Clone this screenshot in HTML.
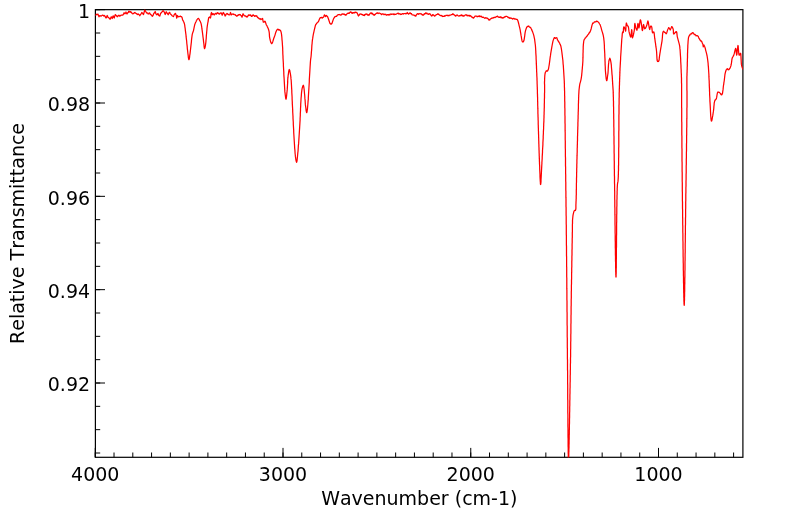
<!DOCTYPE html>
<html><head><meta charset="utf-8"><title>IR spectrum</title><style>
html,body{margin:0;padding:0;background:#fff;overflow:hidden;}
svg{display:block;will-change:transform;}
text{font-family:"DejaVu Sans","Liberation Sans",sans-serif;font-size:19px;fill:#000;}
</style></head><body>
<svg width="799" height="516" viewBox="0 0 799 516">
<defs><clipPath id="ax"><rect x="95.4" y="9.25" width="647.5" height="448.25000000000006"/></clipPath></defs>
<rect x="0" y="0" width="799" height="516" fill="#fff"/>
<g stroke="#000" stroke-width="1"><line x1="95.25" y1="457.3" x2="95.25" y2="452.5"/><line x1="95.25" y1="457.3" x2="95.25" y2="447.90000000000003"/><line x1="114.03" y1="457.3" x2="114.03" y2="452.5"/><line x1="132.80" y1="457.3" x2="132.80" y2="452.5"/><line x1="151.57" y1="457.3" x2="151.57" y2="452.5"/><line x1="170.35" y1="457.3" x2="170.35" y2="452.5"/><line x1="189.12" y1="457.3" x2="189.12" y2="452.5"/><line x1="207.90" y1="457.3" x2="207.90" y2="452.5"/><line x1="226.68" y1="457.3" x2="226.68" y2="452.5"/><line x1="245.45" y1="457.3" x2="245.45" y2="452.5"/><line x1="264.23" y1="457.3" x2="264.23" y2="452.5"/><line x1="283.00" y1="457.3" x2="283.00" y2="452.5"/><line x1="283.00" y1="457.3" x2="283.00" y2="447.90000000000003"/><line x1="301.77" y1="457.3" x2="301.77" y2="452.5"/><line x1="320.55" y1="457.3" x2="320.55" y2="452.5"/><line x1="339.32" y1="457.3" x2="339.32" y2="452.5"/><line x1="358.10" y1="457.3" x2="358.10" y2="452.5"/><line x1="376.88" y1="457.3" x2="376.88" y2="452.5"/><line x1="395.65" y1="457.3" x2="395.65" y2="452.5"/><line x1="414.43" y1="457.3" x2="414.43" y2="452.5"/><line x1="433.20" y1="457.3" x2="433.20" y2="452.5"/><line x1="451.98" y1="457.3" x2="451.98" y2="452.5"/><line x1="470.75" y1="457.3" x2="470.75" y2="452.5"/><line x1="470.75" y1="457.3" x2="470.75" y2="447.90000000000003"/><line x1="489.52" y1="457.3" x2="489.52" y2="452.5"/><line x1="508.30" y1="457.3" x2="508.30" y2="452.5"/><line x1="527.08" y1="457.3" x2="527.08" y2="452.5"/><line x1="545.85" y1="457.3" x2="545.85" y2="452.5"/><line x1="564.62" y1="457.3" x2="564.62" y2="452.5"/><line x1="583.40" y1="457.3" x2="583.40" y2="452.5"/><line x1="602.17" y1="457.3" x2="602.17" y2="452.5"/><line x1="620.95" y1="457.3" x2="620.95" y2="452.5"/><line x1="639.73" y1="457.3" x2="639.73" y2="452.5"/><line x1="658.50" y1="457.3" x2="658.50" y2="452.5"/><line x1="658.50" y1="457.3" x2="658.50" y2="447.90000000000003"/><line x1="677.27" y1="457.3" x2="677.27" y2="452.5"/><line x1="696.05" y1="457.3" x2="696.05" y2="452.5"/><line x1="714.83" y1="457.3" x2="714.83" y2="452.5"/><line x1="733.60" y1="457.3" x2="733.60" y2="452.5"/><line x1="95.4" y1="9.67" x2="100.2" y2="9.67"/><line x1="95.4" y1="9.67" x2="105.0" y2="9.67"/><line x1="95.4" y1="33.00" x2="100.2" y2="33.00"/><line x1="95.4" y1="56.34" x2="100.2" y2="56.34"/><line x1="95.4" y1="79.67" x2="100.2" y2="79.67"/><line x1="95.4" y1="103.00" x2="100.2" y2="103.00"/><line x1="95.4" y1="103.00" x2="105.0" y2="103.00"/><line x1="95.4" y1="126.34" x2="100.2" y2="126.34"/><line x1="95.4" y1="149.67" x2="100.2" y2="149.67"/><line x1="95.4" y1="173.00" x2="100.2" y2="173.00"/><line x1="95.4" y1="196.34" x2="100.2" y2="196.34"/><line x1="95.4" y1="196.34" x2="105.0" y2="196.34"/><line x1="95.4" y1="219.67" x2="100.2" y2="219.67"/><line x1="95.4" y1="243.01" x2="100.2" y2="243.01"/><line x1="95.4" y1="266.34" x2="100.2" y2="266.34"/><line x1="95.4" y1="289.67" x2="100.2" y2="289.67"/><line x1="95.4" y1="289.67" x2="105.0" y2="289.67"/><line x1="95.4" y1="313.01" x2="100.2" y2="313.01"/><line x1="95.4" y1="336.34" x2="100.2" y2="336.34"/><line x1="95.4" y1="359.67" x2="100.2" y2="359.67"/><line x1="95.4" y1="383.01" x2="100.2" y2="383.01"/><line x1="95.4" y1="383.01" x2="105.0" y2="383.01"/><line x1="95.4" y1="406.34" x2="100.2" y2="406.34"/><line x1="95.4" y1="429.67" x2="100.2" y2="429.67"/><line x1="95.4" y1="453.01" x2="100.2" y2="453.01"/></g>
<rect x="95.4" y="9.65" width="647.50" height="447.65" fill="none" stroke="#000" stroke-width="1.2"/>
<path d="M95.2,15.8 95.6,15.1 95.9,14.4 96.2,14.2 96.6,14.6 97.0,14.8 97.3,14.2 97.7,14.4 98.0,14.2 99.0,16.8 99.3,16.3 99.7,15.7 100.0,15.8 100.3,15.9 100.7,15.7 101.0,16.2 101.5,15.8 102.0,15.5 102.4,15.1 102.8,15.1 103.1,15.4 103.5,15.5 103.9,16.0 104.3,15.5 104.8,16.0 105.2,16.4 105.6,17.4 106.0,18.0 106.4,17.6 106.8,16.4 107.2,15.5 107.6,16.1 107.9,17.3 108.3,17.5 108.8,17.5 109.2,18.2 109.6,18.9 109.9,18.7 110.2,19.2 111.2,16.8 111.6,17.0 111.9,17.6 112.2,18.5 113.2,15.8 113.6,16.3 113.9,17.5 114.2,18.0 114.7,16.4 115.2,14.7 115.6,14.7 115.9,15.3 116.2,15.5 116.6,16.0 116.9,16.2 117.2,16.8 117.7,16.4 118.1,15.5 118.5,15.5 118.9,15.2 119.2,15.5 119.6,16.0 120.0,16.0 120.4,15.7 120.8,15.3 121.1,15.3 121.5,15.0 121.9,15.0 122.3,15.0 122.8,15.2 123.2,14.7 123.6,13.8 124.0,12.8 124.5,13.0 125.0,13.8 125.3,13.2 125.7,12.6 126.0,12.0 126.3,13.0 126.7,13.5 127.0,14.0 127.5,13.1 128.0,12.5 128.3,12.5 128.7,11.3 129.0,11.2 129.4,11.7 129.8,12.2 130.1,12.3 130.4,11.6 130.8,11.8 131.1,12.2 131.4,12.2 131.8,13.0 132.1,13.4 132.4,13.7 132.8,13.8 133.2,13.6 133.6,13.6 134.0,13.0 134.3,12.7 134.7,12.8 135.0,12.5 135.4,12.9 135.8,13.2 136.2,13.5 136.7,13.7 137.1,14.3 137.5,14.2 137.8,14.6 138.2,14.1 138.5,14.0 138.9,14.7 139.3,14.8 139.8,15.8 140.1,15.3 140.4,14.7 140.8,14.0 141.1,13.9 141.4,13.3 141.8,12.5 142.1,12.6 142.4,13.1 142.8,13.5 143.1,14.2 143.5,14.5 144.2,12.0 144.8,10.0 145.1,10.2 145.5,11.2 145.8,11.8 146.2,12.1 146.5,13.0 146.8,12.7 147.2,12.8 147.5,13.3 148.0,13.9 148.5,14.0 148.8,13.2 149.2,12.9 149.5,12.8 149.8,13.2 150.2,14.3 150.5,14.5 150.8,14.4 151.2,15.0 151.5,15.2 151.8,15.6 152.2,16.3 152.5,16.2 152.8,15.8 153.2,15.1 153.5,14.0 154.0,13.2 154.5,12.7 154.9,12.0 155.2,11.5 156.0,14.0 156.3,14.1 156.7,14.8 157.0,14.7 157.3,14.7 157.7,13.6 158.0,13.5 158.8,15.5 159.1,15.4 159.4,15.6 159.8,16.0 160.5,13.7 160.8,13.1 161.2,12.9 161.5,12.5 161.8,12.2 162.2,11.6 162.5,11.5 162.9,10.7 163.2,10.8 163.6,11.1 163.9,11.5 164.2,12.0 165.2,14.5 166.2,11.8 166.6,12.2 166.9,13.0 167.2,13.0 167.6,13.8 167.9,14.2 168.2,14.8 168.6,14.0 168.9,13.2 169.3,12.3 169.8,12.5 170.2,13.5 170.7,14.3 171.1,14.6 171.5,14.8 171.8,15.5 172.2,15.9 172.5,16.0 172.9,16.2 173.4,16.6 173.8,15.8 174.1,14.8 174.4,14.4 174.8,14.2 175.2,13.4 175.5,13.4 176.3,15.7 176.7,18.1 177.2,15.5 177.6,15.8 178.1,16.9 178.5,16.6 178.9,16.5 179.3,16.7 179.7,16.5 180.1,16.2 180.5,16.1 180.9,16.6 181.3,16.6 181.7,16.9 182.1,17.6 182.6,19.9 183.1,20.6 183.5,21.6 183.9,22.2 184.4,23.7 184.7,25.1 184.9,26.8 185.2,28.7 185.4,30.6 185.6,32.1 185.8,33.6 186.0,35.1 186.1,36.7 186.3,38.3 186.5,39.9 186.7,41.5 186.8,43.2 187.0,44.9 187.2,46.6 187.3,48.3 187.5,49.9 187.7,51.5 187.9,53.5 188.2,55.7 188.4,57.7 188.7,59.1 188.9,59.7 189.2,59.1 189.5,57.6 189.7,55.7 190.0,53.8 190.2,52.2 190.4,50.5 190.6,48.7 190.8,46.9 191.0,45.1 191.2,43.4 191.4,41.8 191.5,40.1 191.7,38.4 191.9,36.8 192.1,35.4 192.3,34.1 192.9,32.3 193.5,30.6 193.9,28.7 194.3,26.7 194.7,24.8 195.5,22.6 195.9,22.0 196.4,20.7 196.7,20.3 197.1,19.4 197.4,19.2 197.8,18.7 198.1,18.5 198.5,18.4 198.8,18.9 199.2,19.2 199.5,20.4 199.9,20.7 200.5,22.0 201.1,23.6 201.4,25.1 201.7,26.8 201.9,28.7 202.2,30.6 202.4,32.1 202.6,33.6 202.8,35.2 203.0,36.8 203.2,38.4 203.4,39.9 203.6,41.9 203.9,44.2 204.1,46.4 204.3,48.0 204.6,48.6 205.0,47.7 205.4,45.7 205.7,43.4 205.9,42.0 206.0,40.3 206.2,38.6 206.3,36.8 206.4,35.0 206.6,33.3 206.7,31.7 206.9,30.0 207.0,28.3 207.2,26.7 207.4,25.3 207.6,24.0 207.9,22.4 208.2,21.0 208.4,19.1 208.8,17.5 209.2,17.6 209.7,16.8 210.1,17.3 210.5,18.0 210.8,16.4 211.0,14.0 211.5,12.5 212.2,14.7 212.6,14.4 212.9,13.7 213.2,13.8 213.6,13.8 213.9,14.4 214.2,15.0 214.6,14.3 214.9,14.3 215.2,13.5 215.6,13.4 215.9,13.4 216.2,14.0 216.6,14.0 216.9,13.2 217.2,12.8 217.6,12.7 217.9,13.3 218.2,13.5 218.6,13.2 218.9,13.9 219.2,14.0 219.6,14.1 219.9,13.7 220.3,13.0 220.8,13.1 221.2,12.8 222.2,15.2 223.2,12.5 223.6,12.8 223.9,13.4 224.2,14.0 224.6,14.4 224.9,15.6 225.2,16.0 225.6,15.4 225.9,14.9 226.2,14.0 226.6,13.7 226.9,13.4 227.2,13.5 227.6,14.0 227.9,14.4 228.3,14.3 228.7,14.7 229.1,14.9 229.5,14.8 229.8,14.3 230.2,13.5 230.5,12.5 231.2,15.0 231.6,14.4 231.9,14.3 232.3,14.0 232.7,14.0 233.1,13.9 233.5,14.5 233.9,14.2 234.3,14.5 234.8,14.8 235.2,14.7 235.6,15.3 236.0,15.3 236.5,16.2 237.0,16.2 237.4,15.7 237.8,15.6 238.2,14.7 238.7,15.1 239.1,15.0 239.5,14.5 239.9,14.6 240.3,14.7 240.7,15.2 241.2,15.7 241.6,16.3 242.0,17.2 242.5,15.5 243.0,13.8 243.3,14.0 243.7,14.9 244.0,15.2 244.3,15.8 244.7,15.9 245.1,15.7 245.4,15.9 245.8,16.3 246.2,16.7 246.6,16.4 247.0,17.1 247.3,16.7 247.7,16.4 248.0,15.8 248.4,15.0 248.7,15.3 249.1,15.2 249.4,15.0 249.8,15.4 250.1,15.4 250.5,14.8 251.0,15.4 251.4,16.4 251.8,16.3 252.2,16.2 252.6,15.3 252.9,15.0 253.3,14.8 253.7,15.6 254.0,15.8 254.3,15.7 254.7,16.4 255.1,15.9 255.5,15.7 255.9,16.2 256.3,15.7 256.6,16.3 257.0,16.1 257.3,17.1 257.7,17.6 258.0,17.5 258.4,18.1 258.8,18.2 259.2,18.8 259.6,19.1 260.0,18.8 260.4,18.7 260.8,19.6 261.2,19.1 261.5,19.1 261.9,18.8 262.2,19.0 262.6,18.4 262.9,20.3 263.3,22.2 263.7,21.9 264.1,22.1 264.5,21.8 264.9,21.2 265.3,21.7 265.6,22.6 266.3,24.8 266.8,25.5 267.3,26.6 267.7,27.4 268.2,28.5 268.7,30.0 269.1,31.7 269.3,33.2 269.4,34.9 269.5,36.6 269.8,38.3 270.3,40.5 270.9,42.7 271.3,43.0 271.6,43.7 272.1,43.2 272.7,41.9 273.2,40.2 273.8,38.3 274.4,36.7 275.0,35.1 275.5,33.2 276.1,31.5 276.8,30.1 277.1,29.8 277.5,29.3 277.8,29.2 278.2,29.5 278.5,29.3 278.9,30.1 279.2,29.7 279.6,29.9 279.9,30.2 280.3,30.2 280.8,31.1 281.2,32.5 281.5,34.1 281.7,35.9 281.9,37.8 282.0,39.6 282.2,41.4 282.3,42.8 282.4,44.3 282.5,45.7 282.6,47.1 282.7,48.6 282.7,50.1 282.8,51.7 282.8,53.3 282.9,55.0 283.0,56.4 283.0,57.8 283.1,59.3 283.2,60.9 283.3,62.5 283.4,64.1 283.4,65.7 283.5,67.3 283.6,69.0 283.7,70.6 283.8,72.2 283.8,73.8 283.9,75.4 284.0,76.9 284.1,78.3 284.2,80.1 284.3,81.9 284.4,83.7 284.5,85.5 284.6,87.2 284.7,88.9 284.8,90.5 284.9,91.9 285.1,93.3 285.2,94.5 285.5,96.6 285.7,98.4 286.0,99.2 286.2,98.7 286.4,97.5 286.6,95.8 286.8,93.8 287.0,91.8 287.2,89.9 287.3,88.4 287.4,86.9 287.5,85.2 287.6,83.6 287.7,81.9 287.7,80.3 287.8,78.7 288.0,77.2 288.1,75.9 288.4,73.8 288.7,71.7 289.0,70.1 289.3,69.5 289.7,70.2 290.0,71.8 290.4,73.9 290.7,75.9 290.9,77.4 291.0,78.9 291.2,80.5 291.3,82.2 291.4,84.0 291.5,85.8 291.6,87.6 291.7,89.1 291.8,90.6 291.8,92.2 291.9,93.9 292.0,95.5 292.1,97.2 292.1,98.9 292.2,100.5 292.3,102.1 292.3,103.6 292.4,105.0 292.5,106.8 292.6,108.5 292.7,110.1 292.7,111.7 292.8,113.3 292.9,115.0 293.0,116.5 293.0,118.0 293.1,119.5 293.2,121.0 293.3,122.5 293.3,124.1 293.4,125.7 293.5,127.4 293.6,128.9 293.7,130.4 293.7,132.0 293.8,133.7 293.9,135.3 294.0,137.0 294.1,138.6 294.2,140.2 294.3,141.8 294.4,143.4 294.5,144.9 294.6,146.6 294.7,148.4 294.9,150.1 295.0,151.8 295.1,153.5 295.3,155.0 295.4,156.4 295.6,157.7 295.9,159.8 296.3,161.5 296.6,162.3 296.8,161.8 297.1,160.3 297.3,158.4 297.5,156.2 297.7,154.2 297.8,152.9 298.0,151.5 298.1,150.1 298.2,148.6 298.3,147.0 298.4,145.4 298.6,143.9 298.7,142.3 298.8,140.7 298.9,139.1 299.0,137.6 299.1,136.0 299.2,134.5 299.3,132.9 299.4,131.3 299.5,129.7 299.6,128.1 299.7,126.5 299.8,124.9 299.9,123.2 300.0,121.6 300.1,120.1 300.1,118.5 300.2,117.0 300.3,115.4 300.3,113.8 300.4,112.2 300.5,110.6 300.5,109.0 300.6,107.4 300.7,105.9 300.7,104.4 300.8,102.9 300.9,101.5 301.0,99.7 301.1,97.9 301.3,96.1 301.4,94.4 301.5,92.8 301.7,91.3 301.9,89.9 302.1,88.7 302.7,86.4 303.3,85.2 303.6,85.9 303.9,87.7 304.2,90.0 304.4,92.2 304.5,93.6 304.7,95.1 304.8,96.7 304.9,98.4 305.1,100.1 305.2,101.8 305.3,103.4 305.4,104.9 305.6,106.2 305.9,108.3 306.1,110.4 306.4,112.0 306.7,112.6 307.0,112.0 307.2,110.4 307.5,108.3 307.7,106.0 307.9,103.8 308.0,102.4 308.1,100.9 308.3,99.4 308.3,97.9 308.4,96.3 308.5,94.7 308.6,93.1 308.7,91.5 308.8,89.9 308.9,88.3 309.0,86.7 309.1,85.0 309.2,83.4 309.3,81.7 309.3,80.0 309.4,78.4 309.5,76.8 309.6,75.2 309.7,73.6 309.8,71.9 309.9,70.2 310.0,68.5 310.1,66.8 310.2,65.2 310.3,63.6 310.4,62.1 310.5,60.8 310.7,58.8 311.0,57.0 311.2,55.0 311.3,53.6 311.4,52.0 311.6,50.3 311.7,48.6 311.8,46.8 311.9,45.1 312.1,43.5 312.2,42.0 312.4,40.1 312.7,38.4 312.9,36.8 313.2,35.2 313.5,33.5 313.9,31.8 314.2,30.3 314.9,27.5 315.3,25.8 315.9,24.3 316.2,24.2 316.6,23.3 316.9,23.3 317.3,22.4 317.7,22.2 318.0,22.0 318.4,21.7 319.0,20.2 319.6,18.7 320.0,18.3 320.3,17.5 320.7,17.5 321.0,17.5 321.4,17.4 321.7,17.4 322.1,18.2 322.4,18.0 322.8,17.4 323.1,17.3 323.5,17.1 323.8,16.5 324.2,15.6 324.5,14.8 324.9,15.5 325.4,16.6 325.8,16.0 326.3,15.4 326.7,15.8 327.1,16.3 327.5,16.4 328.4,18.7 329.3,21.5 330.0,23.6 330.3,23.5 330.7,24.1 331.0,24.3 331.5,23.7 331.9,23.6 332.6,21.5 333.5,18.9 333.9,18.0 334.3,17.7 334.7,16.8 335.1,16.7 335.5,16.6 335.9,16.4 336.3,16.4 336.6,16.3 337.0,15.7 337.4,15.2 337.8,15.0 338.2,14.5 338.5,14.5 338.9,14.5 339.2,14.7 339.6,14.5 340.0,14.7 340.3,15.0 340.7,15.2 341.1,14.8 341.5,14.8 341.9,14.0 342.4,14.1 342.8,13.8 343.2,14.2 343.6,14.3 344.0,14.0 344.3,14.0 344.7,14.5 345.0,15.0 345.3,15.1 345.7,14.7 346.0,15.2 346.4,14.5 346.8,14.3 347.1,13.6 347.5,13.5 347.8,13.2 348.2,12.9 348.5,13.4 348.8,13.4 349.2,13.4 349.5,13.0 349.8,12.3 350.2,12.4 350.5,11.8 350.9,12.2 351.2,12.1 351.6,13.0 352.0,13.0 352.3,13.3 352.7,12.6 353.0,13.2 353.3,12.6 353.7,12.6 354.0,12.5 354.4,12.9 354.8,12.8 355.2,12.1 355.6,12.4 355.9,12.4 356.3,12.6 356.6,12.5 357.0,12.8 357.4,13.4 357.8,14.6 358.5,16.0 358.9,15.3 359.2,15.2 359.6,14.1 360.0,14.0 360.3,14.1 360.7,14.1 361.0,13.8 361.3,14.2 361.7,14.5 362.0,14.5 362.4,14.7 362.8,14.4 363.2,15.4 363.6,15.4 364.0,15.2 364.4,15.5 364.7,14.5 365.1,14.5 365.4,14.1 365.8,14.6 366.1,14.0 366.5,14.0 366.8,13.9 367.2,14.3 367.5,15.0 367.8,15.1 368.2,14.8 368.5,15.3 368.8,14.6 369.2,15.0 369.5,14.3 369.8,14.1 370.2,13.2 370.5,13.2 370.8,12.9 371.2,13.5 371.5,13.3 371.8,13.0 372.2,13.9 372.5,13.5 372.9,14.1 373.2,14.6 373.6,14.4 374.0,15.3 374.3,15.3 374.7,14.4 375.0,14.5 375.3,14.5 375.7,13.9 376.0,13.5 376.3,13.4 376.7,13.4 377.0,12.8 377.3,12.8 377.7,12.9 378.0,13.5 378.3,13.5 378.7,13.3 379.0,13.1 379.3,13.2 379.7,13.1 380.0,13.5 380.4,13.5 380.8,13.8 381.1,14.1 381.5,14.5 381.9,14.5 382.3,13.8 382.8,13.8 383.2,14.1 383.6,14.1 384.0,14.8 384.4,14.5 384.8,14.2 385.1,14.3 385.5,14.5 385.9,14.3 386.3,15.2 386.7,15.2 387.2,15.0 387.6,14.5 388.0,14.5 388.4,14.5 388.8,15.0 389.1,14.3 389.5,14.8 389.9,14.8 390.3,14.2 390.8,14.0 391.1,14.1 391.5,14.4 391.9,14.1 392.2,14.2 392.7,14.2 393.1,14.3 393.5,14.0 393.9,14.5 394.2,14.0 394.6,14.5 395.0,14.3 395.4,14.4 395.8,14.2 396.1,14.0 396.5,14.0 396.9,13.7 397.2,13.3 397.6,13.3 398.0,13.5 398.4,13.2 398.8,14.0 399.1,13.7 399.5,14.0 399.9,13.8 400.2,13.8 400.6,14.5 401.0,14.2 401.4,14.4 401.8,14.1 402.2,13.8 402.7,13.6 403.1,13.7 403.5,14.0 403.9,13.6 404.3,13.6 404.8,13.5 405.2,13.4 405.6,13.8 406.0,14.0 406.4,13.3 406.8,13.4 407.3,12.5 407.7,13.5 408.1,13.7 408.5,14.2 408.9,13.5 409.3,13.7 409.8,12.8 410.2,12.9 410.6,13.3 411.0,13.8 411.4,13.6 411.8,14.3 412.2,14.8 412.7,14.8 413.1,14.9 413.5,15.0 413.9,15.0 414.3,15.5 414.8,15.8 415.1,15.5 415.4,15.9 415.8,16.2 416.2,15.1 416.6,14.7 417.0,14.0 417.4,13.7 417.8,13.7 418.3,14.3 418.6,13.9 419.0,13.7 419.3,13.9 419.7,13.7 420.0,13.5 420.4,13.8 420.8,13.8 421.1,13.9 421.5,13.8 421.9,14.6 422.3,14.7 422.8,15.2 423.2,14.8 423.6,15.0 424.0,14.2 424.4,13.7 424.8,14.0 425.1,13.6 425.5,13.2 425.9,12.8 426.2,13.6 426.6,13.6 427.0,13.2 427.4,13.7 427.8,14.1 428.2,14.2 428.7,14.4 429.1,13.6 429.5,13.8 429.8,13.9 430.2,14.1 430.5,14.3 430.9,15.1 431.3,15.7 431.7,16.0 432.1,15.7 432.5,14.7 432.8,14.8 433.2,15.1 433.5,14.8 433.9,15.4 434.3,15.9 434.8,16.2 435.2,15.7 435.6,15.2 436.0,15.2 436.4,14.6 436.8,14.5 437.2,14.2 437.7,13.8 438.1,14.4 438.5,14.0 438.9,14.5 439.3,14.9 439.8,15.2 440.2,15.4 440.6,15.6 441.0,15.5 441.4,15.7 441.8,15.4 442.1,16.3 442.5,16.2 442.9,16.5 443.2,16.3 443.6,16.3 444.0,16.2 444.4,16.3 444.8,15.6 445.1,16.1 445.5,15.8 445.9,15.5 446.2,15.2 446.6,15.4 447.0,15.5 447.4,15.7 447.8,15.2 448.1,15.7 448.5,15.5 448.9,15.9 449.2,15.4 449.6,15.2 450.0,15.2 450.4,15.0 450.8,15.0 451.1,14.9 451.5,14.5 451.9,14.5 452.3,14.5 452.6,13.9 453.0,14.3 453.4,14.1 453.8,14.4 454.1,15.0 454.5,15.0 454.9,15.2 455.3,15.9 455.8,16.2 456.1,15.5 456.5,15.2 456.9,15.1 457.2,15.0 457.7,15.5 458.1,15.8 458.5,16.0 458.9,16.1 459.2,15.7 459.6,15.8 460.0,15.8 460.3,15.6 460.7,15.5 461.0,15.0 461.3,15.6 461.7,14.9 462.0,15.0 462.4,15.7 462.8,16.0 463.1,15.5 463.5,16.2 463.9,15.9 464.2,15.9 464.6,15.7 465.0,15.0 465.4,15.0 465.8,14.8 466.1,14.7 466.5,15.0 466.9,15.7 467.3,15.2 467.8,15.8 468.1,15.8 468.5,15.3 468.9,15.6 469.2,15.5 469.6,16.0 470.0,15.4 470.4,16.2 470.8,16.0 471.2,16.3 471.6,17.0 472.0,17.0 472.4,17.5 472.8,17.4 473.2,18.0 473.7,18.0 474.1,17.3 474.5,17.0 474.9,16.3 475.2,16.1 475.6,16.2 476.0,16.0 476.4,16.2 476.8,16.3 477.2,16.8 477.7,16.3 478.1,16.3 478.5,16.2 478.9,16.1 479.2,16.6 479.6,15.8 480.0,16.2 480.4,16.5 480.8,16.7 481.1,16.1 481.5,16.5 481.9,17.1 482.2,17.1 482.6,17.4 483.0,17.2 483.4,17.2 483.8,17.5 484.1,17.7 484.5,18.0 484.9,18.4 485.2,18.0 485.6,17.7 486.0,17.8 486.4,17.9 486.8,18.0 487.2,18.5 487.7,18.4 488.1,18.8 488.5,19.5 488.8,20.0 489.2,19.6 489.5,20.0 489.8,20.1 490.2,19.1 490.5,19.0 490.9,18.6 491.2,18.6 491.6,18.2 492.0,18.2 492.4,17.9 492.8,18.2 493.3,17.5 493.6,17.8 494.0,17.7 494.4,17.4 494.8,17.2 495.2,17.5 495.6,17.3 496.0,16.8 496.4,16.6 496.8,16.6 497.3,16.2 497.7,16.2 498.1,17.1 498.5,17.2 498.9,17.2 499.2,17.4 499.6,17.3 499.9,16.9 500.3,17.1 500.6,16.8 501.0,17.8 501.4,17.2 501.7,17.7 502.1,17.7 502.4,18.0 502.8,17.6 503.2,17.9 503.6,17.9 504.0,17.3 504.4,16.9 504.8,17.1 505.1,16.6 505.5,16.6 505.9,16.4 506.3,16.4 506.7,16.4 507.0,16.5 507.4,16.7 507.8,17.1 508.2,17.6 508.5,17.4 508.9,17.3 509.2,18.0 509.6,17.8 510.0,18.4 510.4,18.0 510.7,17.9 511.1,18.0 511.5,18.4 511.9,18.3 512.3,18.8 512.6,19.1 513.0,18.6 513.3,18.6 513.7,18.4 514.0,18.4 514.3,18.7 514.7,19.1 515.0,19.1 515.4,18.9 515.7,19.1 516.1,19.2 516.5,19.4 516.9,19.4 517.3,19.6 517.9,20.8 518.4,22.5 518.8,24.2 519.2,25.8 519.6,27.4 520.0,29.2 520.3,30.6 520.5,32.1 520.8,33.7 521.0,35.2 521.3,36.6 521.6,38.7 522.0,40.7 522.5,41.9 523.0,41.8 523.4,41.9 524.0,40.3 524.4,37.8 524.7,36.0 524.9,34.1 525.2,32.1 525.6,30.4 526.3,28.2 526.8,27.1 527.2,26.7 527.6,26.3 528.0,26.7 528.4,26.1 528.8,26.0 529.2,26.6 529.5,26.9 529.9,27.4 530.3,27.3 530.7,27.7 531.1,28.6 531.5,29.1 531.8,30.1 532.2,30.9 532.7,32.1 533.4,34.1 533.9,35.9 534.3,37.8 534.6,39.2 534.8,40.8 535.0,42.4 535.2,44.0 535.4,45.4 535.5,46.8 535.6,48.3 535.7,50.0 535.8,51.2 535.8,52.5 535.9,53.9 536.0,55.4 536.1,56.9 536.1,58.5 536.2,60.1 536.3,61.8 536.3,63.4 536.4,65.0 536.5,66.4 536.5,67.9 536.6,69.3 536.6,70.7 536.7,72.2 536.8,73.7 536.8,75.2 536.9,76.7 537.0,78.3 537.0,79.9 537.1,81.5 537.1,83.2 537.2,85.0 537.2,86.3 537.3,87.6 537.3,89.0 537.4,90.3 537.4,91.7 537.4,93.2 537.5,94.6 537.5,96.1 537.6,97.6 537.6,99.1 537.6,100.6 537.7,102.1 537.7,103.7 537.7,105.3 537.8,106.8 537.8,108.4 537.9,110.0 537.9,111.6 537.9,113.2 538.0,114.7 538.0,116.3 538.1,117.9 538.1,119.5 538.2,121.0 538.2,122.6 538.2,124.1 538.3,125.6 538.3,127.1 538.4,128.7 538.4,130.2 538.5,131.8 538.5,133.4 538.6,135.0 538.6,136.6 538.7,138.2 538.7,139.8 538.8,141.4 538.8,143.1 538.9,144.7 538.9,146.3 539.0,147.8 539.0,149.4 539.1,151.0 539.1,152.5 539.2,154.0 539.2,155.5 539.3,156.9 539.3,158.4 539.4,159.8 539.4,161.1 539.5,162.5 539.5,163.8 539.6,165.0 539.7,166.9 539.7,168.8 539.8,170.8 539.9,172.8 540.0,174.8 540.0,176.7 540.1,178.5 540.2,180.2 540.3,181.6 540.4,182.8 540.4,183.7 540.5,184.3 540.6,184.5 540.7,184.3 540.8,183.7 540.9,182.8 541.0,181.6 541.0,180.2 541.1,178.5 541.2,176.7 541.3,174.8 541.4,172.8 541.5,170.8 541.6,168.8 541.7,166.9 541.8,165.0 541.9,163.8 541.9,162.5 542.0,161.1 542.1,159.7 542.2,158.3 542.2,156.9 542.3,155.4 542.4,153.9 542.5,152.4 542.5,150.8 542.6,149.3 542.7,147.7 542.8,146.1 542.9,144.5 542.9,142.9 543.0,141.2 543.1,139.6 543.2,138.0 543.2,136.4 543.3,134.8 543.4,133.2 543.4,131.6 543.5,130.1 543.6,128.5 543.6,127.0 543.7,125.5 543.7,124.0 543.8,122.6 543.9,120.9 543.9,119.3 544.0,117.6 544.0,115.9 544.1,114.2 544.1,112.5 544.2,110.8 544.2,109.1 544.3,107.4 544.3,105.7 544.3,104.1 544.4,102.5 544.4,100.9 544.4,99.4 544.5,97.9 544.5,96.4 544.5,95.0 544.5,93.7 544.6,92.4 544.6,91.2 544.6,90.0 544.6,88.2 544.6,86.5 544.6,84.9 544.5,83.5 544.5,82.1 544.6,80.7 544.6,79.4 544.7,77.5 544.8,75.6 545.0,74.0 545.3,72.6 545.6,71.9 546.0,71.3 546.3,70.7 546.6,71.1 547.0,71.0 547.4,71.0 547.7,70.7 548.2,69.8 548.6,68.3 548.9,66.5 549.2,64.8 549.4,63.3 549.6,61.8 549.8,60.3 550.0,58.7 550.2,57.1 550.5,55.4 550.7,53.6 551.0,51.9 551.3,50.1 551.6,48.4 551.9,46.7 552.2,45.0 552.5,43.4 552.8,41.9 553.1,40.6 554.0,38.2 554.4,37.7 554.7,37.6 555.1,38.2 555.4,38.3 555.8,37.8 556.1,37.8 556.5,37.7 556.9,37.9 557.2,38.9 557.5,40.0 557.9,40.2 558.3,41.2 558.7,41.5 559.1,42.6 559.6,43.0 559.9,44.2 560.3,44.5 560.9,46.3 561.3,48.4 561.5,49.6 561.7,51.0 561.9,52.5 562.1,54.1 562.3,55.7 562.5,57.4 562.7,59.0 562.9,60.5 563.0,62.1 563.1,63.8 563.3,65.4 563.4,67.0 563.5,68.6 563.6,70.1 563.7,71.6 563.8,73.4 563.9,75.0 564.0,76.6 564.1,78.2 564.2,80.0 564.3,81.3 564.3,82.6 564.4,83.9 564.4,85.2 564.4,86.6 564.5,88.1 564.5,89.7 564.6,91.5 564.6,93.5 564.6,94.4 564.6,95.4 564.7,96.4 564.7,97.4 564.7,98.5 564.7,99.7 564.7,100.9 564.8,102.1 564.8,103.4 564.8,104.7 564.8,106.0 564.8,107.4 564.9,108.8 564.9,110.2 564.9,111.7 564.9,113.2 564.9,114.7 565.0,116.3 565.0,117.8 565.0,119.4 565.0,121.0 565.0,122.6 565.1,124.3 565.1,125.9 565.1,127.6 565.1,129.3 565.1,130.9 565.2,132.6 565.2,134.3 565.2,136.0 565.2,137.8 565.2,139.5 565.3,141.2 565.3,142.9 565.3,144.6 565.3,146.3 565.3,148.0 565.4,149.6 565.4,151.3 565.4,153.0 565.4,154.6 565.4,156.3 565.5,157.9 565.5,159.5 565.5,161.0 565.5,162.6 565.5,164.1 565.5,165.6 565.6,167.1 565.6,168.6 565.6,170.0 565.6,171.6 565.6,173.2 565.7,174.7 565.7,176.3 565.7,177.8 565.7,179.4 565.7,180.9 565.8,182.4 565.8,183.9 565.8,185.5 565.8,187.0 565.8,188.5 565.8,190.0 565.9,191.4 565.9,192.9 565.9,194.4 565.9,195.9 565.9,197.4 566.0,198.8 566.0,200.3 566.0,201.8 566.0,203.2 566.0,204.7 566.0,206.2 566.1,207.6 566.1,209.1 566.1,210.6 566.1,212.1 566.1,213.5 566.1,215.0 566.2,216.5 566.2,218.0 566.2,219.4 566.2,220.9 566.2,222.4 566.2,223.9 566.3,225.4 566.3,227.0 566.3,228.5 566.3,230.0 566.3,231.5 566.3,233.0 566.3,234.5 566.4,235.9 566.4,237.4 566.4,238.9 566.4,240.4 566.4,241.9 566.4,243.4 566.4,244.9 566.5,246.4 566.5,247.9 566.5,249.4 566.5,250.9 566.5,252.4 566.5,253.9 566.5,255.4 566.6,256.9 566.6,258.4 566.6,259.9 566.6,261.4 566.6,262.9 566.6,264.5 566.6,266.0 566.7,267.5 566.7,269.0 566.7,270.5 566.7,272.0 566.7,273.6 566.7,275.1 566.7,276.6 566.8,278.1 566.8,279.7 566.8,281.2 566.8,282.7 566.8,284.3 566.8,285.8 566.8,287.3 566.8,288.9 566.9,290.4 566.9,291.9 566.9,293.5 566.9,295.0 566.9,296.5 566.9,298.0 566.9,299.5 567.0,301.0 567.0,302.4 567.0,303.9 567.0,305.4 567.0,306.9 567.0,308.4 567.0,309.8 567.0,311.3 567.1,312.8 567.1,314.3 567.1,315.8 567.1,317.3 567.1,318.7 567.1,320.2 567.1,321.7 567.1,323.2 567.1,324.7 567.2,326.2 567.2,327.7 567.2,329.2 567.2,330.7 567.2,332.2 567.2,333.7 567.2,335.2 567.2,336.7 567.3,338.2 567.3,339.8 567.3,341.3 567.3,342.8 567.3,344.4 567.3,345.9 567.3,347.5 567.4,349.0 567.4,350.6 567.4,352.2 567.4,353.7 567.4,355.3 567.4,356.9 567.4,358.5 567.5,360.1 567.5,361.7 567.5,363.4 567.5,365.0 567.5,366.4 567.5,367.9 567.5,369.4 567.6,371.0 567.6,372.6 567.6,374.3 567.6,376.0 567.6,377.7 567.6,379.5 567.6,381.3 567.6,383.1 567.7,385.0 567.7,386.9 567.7,388.8 567.7,390.7 567.7,392.7 567.7,394.6 567.7,396.6 567.7,398.6 567.8,400.6 567.8,402.6 567.8,404.6 567.8,406.7 567.8,408.7 567.8,410.7 567.8,412.7 567.9,414.7 567.9,416.7 567.9,418.6 567.9,420.6 567.9,422.5 567.9,424.4 567.9,426.3 568.0,428.2 568.0,430.0 568.0,431.8 568.0,433.6 568.0,435.3 568.0,437.0 568.1,438.7 568.1,440.3 568.1,441.9 568.1,443.4 568.1,444.9 568.1,446.3 568.2,447.6 568.2,449.0 568.2,450.2 568.2,451.4 568.2,452.5 568.2,453.5 568.3,454.5 568.3,455.4 568.3,456.3 568.3,457.0 568.3,457.7 568.4,458.3 568.4,458.8 568.4,459.2 568.4,459.6 568.5,459.8 568.5,460.0 568.5,460.0 568.5,460.0 568.5,459.8 568.6,459.6 568.6,459.3 568.6,458.8 568.6,458.3 568.7,457.8 568.7,457.1 568.7,456.4 568.8,455.5 568.8,454.7 568.8,453.7 568.8,452.7 568.9,451.6 568.9,450.4 568.9,449.2 569.0,447.9 569.0,446.6 569.0,445.2 569.1,443.7 569.1,442.2 569.1,440.7 569.2,439.1 569.2,437.5 569.2,435.8 569.3,434.1 569.3,432.3 569.3,430.5 569.4,428.7 569.4,426.9 569.4,425.0 569.5,423.1 569.5,421.2 569.5,419.2 569.6,417.3 569.6,415.3 569.6,413.3 569.7,411.3 569.7,409.3 569.7,407.2 569.8,405.2 569.8,403.2 569.8,401.2 569.9,399.2 569.9,397.1 569.9,395.1 570.0,393.1 570.0,391.1 570.0,389.2 570.1,387.2 570.1,385.3 570.1,383.3 570.2,381.5 570.2,379.6 570.2,377.7 570.2,375.9 570.3,374.2 570.3,372.4 570.3,370.7 570.4,369.0 570.4,367.4 570.4,365.8 570.4,364.3 570.5,362.8 570.5,361.4 570.5,360.0 570.5,358.3 570.6,356.7 570.6,355.0 570.6,353.4 570.6,351.8 570.6,350.2 570.7,348.6 570.7,347.0 570.7,345.5 570.7,343.9 570.7,342.4 570.8,340.8 570.8,339.3 570.8,337.8 570.8,336.3 570.8,334.8 570.9,333.3 570.9,331.8 570.9,330.3 570.9,328.8 570.9,327.4 570.9,325.9 570.9,324.4 571.0,323.0 571.0,321.5 571.0,320.0 571.0,318.6 571.0,317.1 571.0,315.7 571.1,314.2 571.1,312.7 571.1,311.3 571.1,309.8 571.1,308.4 571.1,306.9 571.2,305.4 571.2,304.0 571.2,302.5 571.2,301.0 571.2,299.5 571.3,298.0 571.3,296.5 571.3,295.0 571.3,293.5 571.3,291.9 571.4,290.3 571.4,288.7 571.4,287.1 571.4,285.5 571.5,283.8 571.5,282.1 571.5,280.4 571.6,278.7 571.6,277.0 571.6,275.3 571.6,273.6 571.7,271.9 571.7,270.1 571.7,268.4 571.8,266.7 571.8,265.0 571.8,263.3 571.8,261.6 571.9,259.9 571.9,258.2 571.9,256.6 572.0,254.9 572.0,253.3 572.0,251.7 572.0,250.2 572.1,248.6 572.1,247.1 572.1,245.6 572.1,244.2 572.2,242.7 572.2,241.4 572.2,240.0 572.2,238.7 572.3,237.4 572.3,236.2 572.3,235.1 572.3,233.9 572.3,232.9 572.4,231.9 572.4,230.9 572.4,230.0 572.4,228.0 572.4,226.2 572.4,224.6 572.5,223.2 572.5,221.8 572.5,220.6 572.6,219.3 572.8,217.3 573.0,215.4 573.3,213.8 574.0,211.1 574.4,210.7 574.7,210.4 575.0,210.3 575.4,210.5 575.7,209.6 575.9,208.4 575.9,206.8 575.9,205.0 576.0,203.0 576.0,202.0 576.1,200.9 576.1,199.8 576.2,198.6 576.2,197.3 576.2,196.0 576.3,194.6 576.3,193.1 576.3,191.7 576.3,190.1 576.4,188.6 576.4,187.0 576.4,185.4 576.4,183.7 576.5,182.0 576.5,180.3 576.5,178.6 576.6,176.9 576.6,175.2 576.6,173.5 576.7,171.7 576.7,170.0 576.7,168.7 576.8,167.4 576.8,166.0 576.8,164.5 576.9,163.1 576.9,161.6 576.9,160.1 577.0,158.5 577.0,157.0 577.1,155.4 577.1,153.7 577.2,152.1 577.2,150.5 577.2,148.8 577.3,147.1 577.3,145.4 577.4,143.8 577.4,142.1 577.5,140.4 577.5,138.7 577.5,137.0 577.6,135.4 577.6,133.7 577.7,132.1 577.7,130.5 577.8,128.9 577.8,127.3 577.9,125.7 577.9,124.2 577.9,122.7 578.0,121.3 578.0,119.8 578.1,118.4 578.1,117.1 578.1,115.8 578.2,114.5 578.2,113.3 578.2,112.2 578.3,111.1 578.3,110.0 578.4,108.0 578.4,106.1 578.4,104.3 578.5,102.6 578.5,101.1 578.6,99.6 578.6,98.1 578.7,96.7 578.7,95.4 578.8,94.0 578.9,92.1 579.0,90.3 579.2,88.5 579.4,86.9 579.6,85.3 579.9,83.7 580.3,82.3 580.7,80.8 581.1,79.1 581.3,77.9 581.5,76.5 581.7,75.1 581.8,73.6 582.0,72.0 582.1,70.4 582.3,68.7 582.4,67.0 582.6,65.3 582.7,63.6 582.8,62.2 582.9,60.7 582.9,59.1 583.0,57.4 583.0,55.7 583.0,54.0 583.1,52.2 583.1,50.5 583.2,48.8 583.2,47.1 583.3,45.6 583.4,44.1 583.6,42.7 583.7,41.5 583.9,40.5 584.2,39.6 584.6,39.0 584.9,38.6 585.3,37.8 585.7,37.8 586.1,37.1 586.5,36.5 586.8,36.2 587.2,35.9 587.5,35.2 587.9,34.8 588.3,34.4 588.7,33.9 589.1,32.9 589.6,32.6 590.0,31.9 590.5,30.7 591.2,28.7 591.6,26.8 592.1,24.9 592.7,23.3 593.0,22.8 593.4,23.2 593.7,22.8 594.1,22.3 594.4,21.9 594.8,21.8 595.1,21.8 595.5,21.9 595.9,21.8 596.2,21.3 596.6,21.1 597.0,21.5 597.4,21.4 597.8,21.8 598.2,22.0 598.6,22.4 599.0,22.7 599.3,23.6 599.7,24.1 600.0,24.4 600.4,25.6 601.0,27.4 601.5,29.3 602.0,31.1 602.5,32.6 602.9,34.0 603.3,35.6 603.6,37.3 603.8,38.6 603.9,39.9 604.1,41.4 604.2,42.9 604.3,44.5 604.4,46.1 604.4,47.8 604.5,49.5 604.6,51.1 604.7,52.8 604.8,54.3 604.8,55.8 604.9,57.5 605.0,59.1 605.0,60.8 605.1,62.4 605.1,64.1 605.2,65.7 605.3,67.3 605.3,68.8 605.4,70.3 605.5,71.7 605.6,72.9 605.8,74.9 606.0,77.0 606.2,78.9 606.5,80.2 606.7,80.7 607.0,80.1 607.3,78.5 607.5,76.5 607.8,74.5 608.0,73.1 608.1,71.5 608.2,69.8 608.3,68.0 608.4,66.2 608.5,64.5 608.7,62.9 608.8,61.6 609.0,60.5 609.8,58.2 610.4,59.6 610.9,62.1 611.1,63.4 611.3,64.8 611.4,66.3 611.5,68.0 611.7,69.7 611.8,71.4 611.9,72.8 612.0,74.3 612.2,75.9 612.3,77.6 612.4,79.2 612.5,80.9 612.6,82.5 612.7,84.1 612.8,85.5 612.9,86.9 613.0,88.5 613.1,89.9 613.2,91.3 613.2,92.9 613.3,95.0 613.3,95.7 613.3,96.5 613.4,97.4 613.4,98.3 613.4,99.2 613.4,100.2 613.5,101.3 613.5,102.4 613.5,103.5 613.5,104.7 613.5,105.9 613.6,107.2 613.6,108.5 613.6,109.8 613.6,111.2 613.6,112.6 613.7,114.0 613.7,115.5 613.7,117.0 613.7,118.5 613.8,120.0 613.8,121.6 613.8,123.2 613.8,124.8 613.8,126.5 613.9,128.2 613.9,129.8 613.9,131.5 613.9,133.2 613.9,135.0 614.0,136.7 614.0,138.5 614.0,140.2 614.0,142.0 614.0,143.8 614.1,145.5 614.1,147.3 614.1,149.1 614.1,150.9 614.1,152.7 614.2,154.5 614.2,156.2 614.2,158.0 614.2,159.8 614.3,161.6 614.3,163.3 614.3,165.0 614.3,166.8 614.3,168.5 614.4,170.2 614.4,171.9 614.4,173.5 614.4,175.2 614.5,176.8 614.5,178.4 614.5,180.0 614.5,181.5 614.5,183.0 614.6,184.6 614.6,186.2 614.6,187.9 614.6,189.6 614.7,191.4 614.7,193.2 614.7,195.0 614.7,196.8 614.7,198.7 614.8,200.6 614.8,202.5 614.8,204.4 614.8,206.4 614.9,208.4 614.9,210.4 614.9,212.4 614.9,214.4 615.0,216.4 615.0,218.4 615.0,220.4 615.0,222.5 615.0,224.5 615.1,226.5 615.1,228.5 615.1,230.5 615.1,232.5 615.2,234.5 615.2,236.4 615.2,238.4 615.2,240.3 615.3,242.2 615.3,244.1 615.3,245.9 615.3,247.7 615.4,249.5 615.4,251.2 615.4,253.0 615.4,254.6 615.5,256.3 615.5,257.8 615.5,259.4 615.5,260.9 615.6,262.3 615.6,263.7 615.6,265.1 615.6,266.3 615.6,267.5 615.7,268.7 615.7,269.8 615.7,270.8 615.7,271.8 615.8,272.7 615.8,273.5 615.8,274.2 615.8,274.9 615.9,275.4 615.9,275.9 615.9,276.4 615.9,276.7 616.0,276.9 616.0,277.1 616.0,277.1 616.0,277.0 616.0,276.8 616.1,276.5 616.1,276.1 616.1,275.6 616.1,274.9 616.1,274.1 616.2,273.3 616.2,272.3 616.2,271.3 616.2,270.1 616.2,268.9 616.3,267.6 616.3,266.2 616.3,264.7 616.3,263.2 616.3,261.6 616.3,259.9 616.4,258.2 616.4,256.4 616.4,254.6 616.4,252.7 616.4,250.8 616.4,248.8 616.5,246.8 616.5,244.8 616.5,242.7 616.5,240.7 616.5,238.6 616.5,236.5 616.6,234.3 616.6,232.2 616.6,230.1 616.6,227.9 616.6,225.8 616.6,223.7 616.7,221.6 616.7,219.5 616.7,217.4 616.7,215.4 616.8,213.4 616.8,211.4 616.8,209.4 616.8,207.5 616.9,205.6 616.9,203.8 616.9,202.1 616.9,200.4 617.0,198.7 617.0,197.1 617.0,195.6 617.1,194.2 617.1,192.8 617.1,191.5 617.2,190.3 617.2,189.2 617.2,188.1 617.3,187.2 617.3,186.4 617.4,185.6 617.4,185.0 617.6,183.1 617.9,181.9 618.1,180.0 618.1,179.4 618.2,178.7 618.2,177.9 618.3,177.0 618.3,176.1 618.3,175.1 618.4,174.0 618.4,172.9 618.4,171.7 618.5,170.5 618.5,169.2 618.5,167.8 618.5,166.4 618.6,164.9 618.6,163.4 618.6,161.9 618.6,160.3 618.6,158.7 618.7,157.1 618.7,155.4 618.7,153.7 618.7,151.9 618.7,150.2 618.7,148.4 618.8,146.6 618.8,144.7 618.8,142.9 618.8,141.1 618.8,139.2 618.8,137.3 618.8,135.5 618.8,133.6 618.8,131.7 618.9,129.9 618.9,128.0 618.9,126.1 618.9,124.3 618.9,122.5 618.9,120.7 618.9,118.9 618.9,117.1 618.9,115.4 619.0,113.7 619.0,112.0 619.0,110.3 619.0,108.7 619.0,107.1 619.0,105.6 619.1,104.1 619.1,102.6 619.1,101.2 619.1,99.9 619.1,98.6 619.2,97.3 619.2,96.1 619.2,95.0 619.2,93.1 619.3,91.2 619.3,89.5 619.4,87.7 619.4,86.1 619.5,84.5 619.5,82.9 619.6,81.4 619.6,79.9 619.7,78.4 619.7,77.0 619.8,75.6 619.8,74.2 619.9,72.9 619.9,71.5 620.0,70.2 620.0,68.9 620.1,67.6 620.2,65.8 620.3,64.1 620.4,62.4 620.5,60.8 620.6,59.2 620.6,57.7 620.7,56.2 620.8,54.7 620.9,53.3 621.0,52.0 621.1,50.2 621.2,48.5 621.3,46.9 621.4,45.3 621.5,43.7 621.6,42.1 621.7,40.5 621.8,39.0 622.0,37.5 622.1,36.1 622.3,33.5 622.6,32.0 623.2,32.6 623.4,31.1 623.5,28.3 623.8,26.8 624.2,27.2 624.7,28.0 625.2,29.9 625.6,31.2 625.8,30.3 625.9,28.3 626.0,25.9 626.2,23.9 626.4,23.0 627.3,25.6 627.8,26.0 628.2,26.5 628.6,27.9 628.8,29.7 629.0,31.4 629.4,33.2 629.9,34.9 630.3,36.4 630.8,37.0 631.1,35.8 631.3,33.3 631.5,30.8 631.7,29.7 631.9,30.5 632.0,32.5 632.1,34.9 632.3,36.9 632.5,37.8 632.9,36.8 633.4,34.9 633.7,33.5 634.0,31.9 634.3,30.3 634.5,28.3 634.6,26.0 634.7,24.1 634.9,23.3 635.2,24.9 635.7,27.4 636.3,29.3 636.9,30.3 637.2,29.2 637.5,26.8 637.7,24.4 638.0,23.3 638.3,24.5 638.6,26.8 638.9,28.0 639.2,27.1 639.5,25.1 639.8,22.7 640.1,20.7 640.4,19.8 640.9,21.0 641.3,23.3 641.6,25.3 641.9,27.7 642.1,29.7 642.4,30.6 642.7,29.7 643.0,27.6 643.3,25.5 643.6,24.5 644.1,26.6 644.7,28.8 645.1,28.5 645.5,28.2 645.9,27.4 646.5,26.1 647.0,24.6 647.5,22.3 647.9,20.8 648.3,22.2 648.7,24.6 649.0,26.5 649.4,28.6 649.7,29.5 650.1,27.9 650.6,26.1 650.9,26.2 651.3,26.2 651.6,26.6 651.9,27.9 652.1,30.0 652.3,32.0 652.6,32.9 653.0,32.3 653.3,32.6 653.7,31.9 654.1,32.7 654.3,34.3 654.5,36.3 654.7,38.2 655.0,39.9 655.2,41.6 655.5,43.3 655.7,45.0 655.9,46.7 656.2,48.3 656.4,50.0 656.6,51.8 656.7,53.5 656.8,55.4 656.9,57.4 657.0,59.2 657.2,60.6 657.6,61.4 657.9,61.6 658.3,61.2 658.6,61.4 659.1,60.1 659.3,57.8 659.6,55.6 659.9,53.7 660.2,51.8 660.5,49.8 660.8,48.2 661.1,46.5 661.4,44.7 661.7,42.9 662.0,41.1 662.2,39.3 662.4,37.3 662.5,35.2 662.7,33.4 663.0,32.0 663.4,31.4 663.8,31.2 664.1,31.9 664.5,32.3 664.9,32.4 665.2,32.7 665.6,32.9 665.9,33.6 666.3,33.8 666.8,32.7 667.3,30.9 668.0,28.9 668.3,28.6 668.7,27.6 669.1,28.0 669.5,28.4 669.8,29.3 670.2,30.0 670.6,29.1 671.0,28.3 671.3,27.6 671.7,26.6 672.1,26.8 672.5,27.5 673.2,29.3 673.4,31.0 673.4,33.0 673.7,34.0 674.1,33.9 674.5,33.4 674.9,32.8 675.3,32.5 675.6,31.9 676.0,32.3 676.4,31.6 676.8,32.6 677.0,34.4 677.2,36.3 677.6,37.8 678.0,39.4 678.4,40.9 678.8,42.4 679.2,43.9 679.6,45.6 679.8,46.9 679.9,48.4 680.1,49.9 680.2,51.5 680.3,53.2 680.4,54.9 680.5,56.3 680.6,57.8 680.7,59.4 680.7,61.0 680.8,62.6 680.9,64.2 681.0,65.8 681.0,67.3 681.1,68.8 681.2,70.4 681.2,72.0 681.3,73.5 681.4,75.0 681.4,76.6 681.5,78.2 681.5,80.0 681.5,81.3 681.5,82.6 681.6,83.9 681.6,85.2 681.6,86.6 681.6,87.9 681.6,89.4 681.6,90.9 681.6,92.5 681.6,94.2 681.6,96.0 681.6,97.9 681.6,100.0 681.6,100.9 681.6,101.9 681.6,102.9 681.6,103.9 681.6,105.0 681.6,106.1 681.6,107.2 681.7,108.3 681.7,109.5 681.7,110.7 681.7,111.9 681.7,113.2 681.7,114.5 681.7,115.8 681.7,117.1 681.7,118.4 681.7,119.8 681.7,121.2 681.8,122.6 681.8,124.1 681.8,125.5 681.8,127.0 681.8,128.5 681.8,130.0 681.8,131.5 681.8,133.1 681.8,134.6 681.9,136.2 681.9,137.8 681.9,139.4 681.9,141.0 681.9,142.6 681.9,144.2 681.9,145.9 681.9,147.5 682.0,149.2 682.0,150.8 682.0,152.5 682.0,154.2 682.0,155.8 682.0,157.5 682.0,159.2 682.0,160.9 682.1,162.6 682.1,164.3 682.1,166.0 682.1,167.7 682.1,169.4 682.1,171.1 682.2,172.8 682.2,174.5 682.2,176.1 682.2,177.8 682.2,179.5 682.2,181.2 682.3,182.8 682.3,184.5 682.3,186.1 682.3,187.8 682.3,189.4 682.3,191.0 682.4,192.6 682.4,194.2 682.4,195.8 682.4,197.4 682.4,198.9 682.4,200.5 682.5,202.0 682.5,203.5 682.5,205.0 682.5,206.6 682.5,208.2 682.6,209.8 682.6,211.5 682.6,213.2 682.6,215.0 682.6,216.7 682.7,218.6 682.7,220.4 682.7,222.3 682.7,224.2 682.8,226.1 682.8,228.0 682.8,230.0 682.8,232.0 682.9,233.9 682.9,235.9 682.9,237.9 682.9,240.0 683.0,242.0 683.0,244.0 683.0,246.0 683.0,248.1 683.1,250.1 683.1,252.1 683.1,254.1 683.1,256.1 683.2,258.1 683.2,260.1 683.2,262.1 683.3,264.0 683.3,265.9 683.3,267.8 683.3,269.7 683.4,271.6 683.4,273.4 683.4,275.2 683.5,277.0 683.5,278.7 683.5,280.4 683.5,282.1 683.6,283.7 683.6,285.3 683.6,286.8 683.6,288.3 683.7,289.7 683.7,291.1 683.7,292.5 683.8,293.8 683.8,295.0 683.8,296.2 683.8,297.3 683.9,298.3 683.9,299.3 683.9,300.2 683.9,301.1 684.0,301.8 684.0,302.5 684.0,303.2 684.0,303.7 684.1,304.2 684.1,304.6 684.1,304.9 684.2,305.1 684.2,305.3 684.2,305.3 684.2,305.3 684.2,305.1 684.3,304.9 684.3,304.6 684.3,304.2 684.3,303.7 684.4,303.2 684.4,302.5 684.4,301.8 684.4,301.1 684.5,300.2 684.5,299.3 684.5,298.3 684.5,297.3 684.6,296.2 684.6,295.0 684.6,293.8 684.6,292.5 684.7,291.1 684.7,289.7 684.7,288.3 684.7,286.8 684.7,285.3 684.8,283.7 684.8,282.1 684.8,280.4 684.8,278.7 684.9,277.0 684.9,275.2 684.9,273.4 684.9,271.6 685.0,269.7 685.0,267.8 685.0,265.9 685.0,264.0 685.0,262.0 685.1,260.1 685.1,258.1 685.1,256.1 685.1,254.1 685.2,252.1 685.2,250.1 685.2,248.1 685.2,246.0 685.2,244.0 685.3,242.0 685.3,240.0 685.3,237.9 685.3,235.9 685.4,233.9 685.4,232.0 685.4,230.0 685.4,228.0 685.4,226.1 685.5,224.2 685.5,222.3 685.5,220.4 685.5,218.6 685.6,216.7 685.6,215.0 685.6,213.2 685.6,211.5 685.6,209.8 685.7,208.2 685.7,206.6 685.7,205.0 685.7,203.5 685.7,202.0 685.8,200.5 685.8,198.9 685.8,197.4 685.8,195.8 685.8,194.2 685.9,192.6 685.9,191.0 685.9,189.4 685.9,187.8 686.0,186.1 686.0,184.5 686.0,182.8 686.0,181.2 686.1,179.5 686.1,177.8 686.1,176.1 686.1,174.5 686.2,172.8 686.2,171.1 686.2,169.4 686.2,167.7 686.2,166.0 686.3,164.3 686.3,162.6 686.3,160.9 686.3,159.2 686.4,157.5 686.4,155.8 686.4,154.2 686.4,152.5 686.5,150.8 686.5,149.2 686.5,147.5 686.5,145.9 686.5,144.2 686.6,142.6 686.6,141.0 686.6,139.4 686.6,137.8 686.6,136.2 686.7,134.6 686.7,133.1 686.7,131.5 686.7,130.0 686.7,128.5 686.8,127.0 686.8,125.5 686.8,124.1 686.8,122.6 686.8,121.2 686.8,119.8 686.9,118.4 686.9,117.1 686.9,115.8 686.9,114.5 686.9,113.2 686.9,111.9 686.9,110.7 686.9,109.5 686.9,108.3 687.0,107.2 687.0,106.1 687.0,105.0 687.0,103.9 687.0,102.9 687.0,101.9 687.0,100.9 687.0,100.0 687.0,97.9 687.0,96.0 687.0,94.3 687.0,92.6 687.0,91.1 686.9,89.6 686.9,88.2 686.9,86.8 686.9,85.5 686.9,84.1 686.9,82.8 686.9,81.4 686.9,80.0 686.9,78.4 686.9,76.8 687.0,75.2 687.0,73.7 687.1,72.1 687.1,70.6 687.2,69.0 687.2,67.5 687.3,65.9 687.3,64.2 687.3,62.7 687.4,61.0 687.4,59.3 687.5,57.6 687.5,55.9 687.5,54.1 687.6,52.4 687.6,50.7 687.7,49.0 687.8,47.4 687.8,45.9 687.9,44.5 688.0,43.3 688.1,41.2 688.3,39.3 688.5,37.7 688.9,36.3 689.2,35.7 689.6,35.7 689.9,34.7 690.3,34.2 690.6,34.0 691.0,34.0 691.4,33.4 691.8,33.8 692.1,33.2 692.5,32.7 692.9,32.8 693.3,32.9 693.6,33.4 694.0,34.0 694.3,34.6 694.7,34.5 695.0,34.4 695.4,34.9 695.7,35.0 696.1,35.9 696.4,35.7 696.8,35.5 697.1,35.5 697.5,35.7 697.8,36.1 698.2,36.3 698.6,37.4 698.9,38.2 699.3,38.6 699.7,39.4 700.1,40.2 700.5,40.3 700.9,41.1 701.2,41.0 701.6,41.4 702.0,42.1 702.4,43.4 702.8,44.0 703.3,46.9 704.0,45.0 704.4,46.2 704.8,46.9 705.3,48.5 705.7,50.3 706.2,52.2 706.7,54.2 707.1,56.0 707.4,57.9 707.7,60.0 707.9,61.6 708.1,63.3 708.2,65.1 708.4,66.9 708.5,68.7 708.6,70.2 708.7,71.7 708.8,73.2 708.9,74.8 708.9,76.4 709.0,78.2 709.1,80.0 709.2,81.3 709.2,82.7 709.3,84.2 709.3,85.8 709.4,87.4 709.5,89.0 709.5,90.6 709.6,92.3 709.6,94.0 709.7,95.7 709.8,97.3 709.9,99.0 709.9,100.6 710.0,102.1 710.1,103.6 710.2,105.4 710.3,107.4 710.4,109.5 710.5,111.6 710.6,113.7 710.7,115.6 710.9,117.4 711.0,118.9 711.2,120.1 711.3,120.8 711.5,121.1 711.8,120.6 712.1,119.3 712.4,117.5 712.8,115.4 713.1,113.3 713.4,111.4 713.6,109.8 713.8,108.1 713.9,106.4 714.1,104.7 714.2,103.1 714.5,101.8 714.8,100.7 715.2,99.8 715.5,99.9 715.9,99.2 716.3,98.8 716.7,97.2 717.0,95.0 717.4,93.0 717.9,92.0 718.3,92.1 718.7,92.2 719.0,92.3 719.4,92.4 719.8,93.0 720.2,93.2 720.6,93.6 720.9,94.5 721.3,94.2 721.7,94.9 722.1,94.4 722.5,93.3 722.7,91.8 723.0,89.9 723.2,88.0 723.4,86.0 723.7,84.3 723.9,82.7 724.2,81.0 724.4,79.3 724.6,77.5 724.8,75.8 725.0,74.2 725.3,72.8 725.6,71.7 726.2,69.8 726.6,69.7 727.0,68.8 727.4,68.7 727.8,69.0 728.1,69.6 728.5,69.8 728.9,69.7 729.3,69.2 729.6,68.3 730.0,68.3 730.9,65.9 731.2,64.5 731.5,62.8 731.7,61.1 731.9,59.5 732.2,58.1 732.6,57.3 733.0,56.6 733.4,55.8 733.8,55.2 734.3,53.4 734.8,51.1 735.3,49.2 735.7,48.4 736.0,49.5 736.2,51.8 736.5,54.1 736.7,55.2 736.9,54.5 737.1,52.7 737.3,50.3 737.6,48.0 737.8,46.2 738.0,45.5 738.2,46.2 738.3,48.0 738.5,50.3 738.7,52.6 738.9,54.4 739.2,55.2 739.6,54.9 740.1,53.7 740.5,53.3 740.8,53.9 740.9,55.2 741.0,57.0 741.1,59.2 741.2,61.3 741.3,63.3 741.5,64.9 741.9,66.6 742.4,68.0 742.9,69.5" fill="none" stroke="#ff0000" stroke-width="1.25" stroke-linejoin="round" clip-path="url(#ax)"/>
<g><text x="95.25" y="481" text-anchor="middle">4000</text><text x="283.00" y="481" text-anchor="middle">3000</text><text x="470.75" y="481" text-anchor="middle">2000</text><text x="658.50" y="481" text-anchor="middle">1000</text><text x="90.1" y="17.97" text-anchor="end">1</text><text x="90.1" y="111.30" text-anchor="end">0.98</text><text x="90.1" y="204.64" text-anchor="end">0.96</text><text x="90.1" y="297.97" text-anchor="end">0.94</text><text x="90.1" y="391.31" text-anchor="end">0.92</text></g>
<text x="419.3" y="505" text-anchor="middle" style="font-size:19px;font-kerning:none">Wavenumber (cm-1)</text>
<text transform="translate(24.3,233.45) rotate(-90)" text-anchor="middle" style="font-size:19px;font-kerning:none">Relative Transmittance</text>
</svg>
</body></html>
